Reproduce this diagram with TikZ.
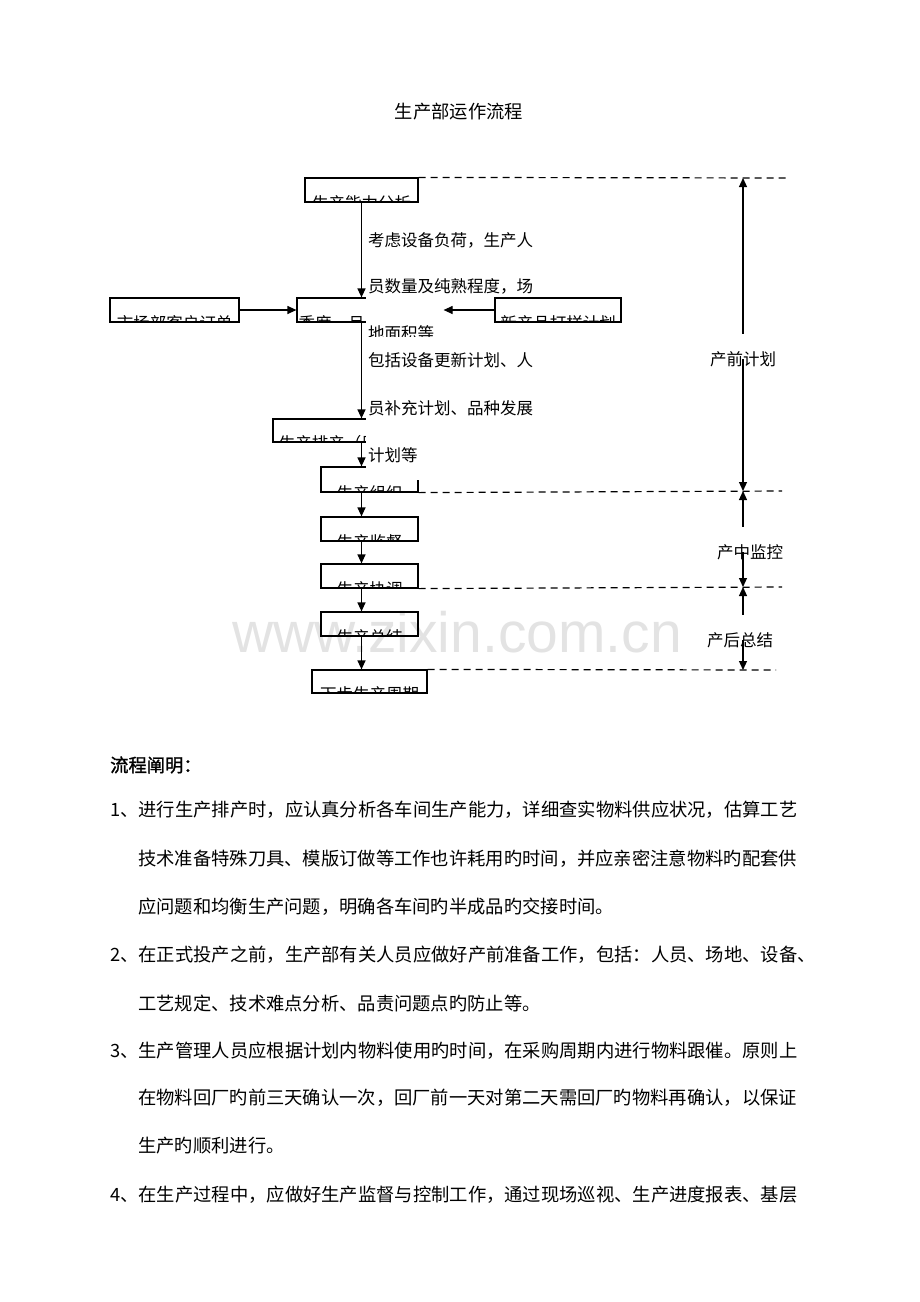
\documentclass[tikz,border=0pt]{standalone}
\usepackage{fontspec}
\setmainfont{Noto Sans CJK SC}
\newfontfamily\headfont[FakeBold=1.5]{Noto Sans CJK SC}
\newfontfamily\markfont{Liberation Sans}
\usetikzlibrary{arrows.meta}
\newcommand{\boxfont}{\fontsize{16.5}{18}\selectfont}
\newcommand{\bodyfont}{\fontsize{18.3}{20}\selectfont}

\begin{document}
\begin{tikzpicture}
[
x=1pt, y=-1pt,
every node/.style={inner sep=0pt},
flow/.style={-{Triangle[length=9pt,width=8pt]}, line width=1.2pt},
guide/.style={line width=1.2pt, dash pattern=on 7pt off 5pt},
cutbox/.style={draw, line width=1.2pt,
            path picture={\node[font=\boxfont] at ([yshift=-1pt]path picture bounding box.south) {#1};}},
cutboxl/.style={draw, line width=1.2pt,
            path picture={\node[font=\boxfont, anchor=west] at ([xshift=1pt,yshift=-1pt]path picture bounding box.south west) {#1};}},
noteline/.style={anchor=base west, font=\boxfont},
phase/.style={font=\boxfont, minimum height=50pt},
bodyline/.style={anchor=west, font=\bodyfont},
]
\useasboundingbox (0,0) rectangle (920,1302);

%Watermark
\node[font=\markfont\fontsize{57}{60}\selectfont, text=black!11, anchor=base] (mark) at (457,652) {www.zixin.com.cn};

%Title
\node[font=\fontsize{18.3}{20}\selectfont] (title) at (459,112) {生产部运作流程};

%Boxes under the notes
\node[cutboxl=季度、月度生产计划, minimum width=146pt, minimum height=24pt] (plan) at (370,310) {};
\node[cutboxl=生产排产（周计划）, minimum width=157pt, minimum height=23pt] (sched) at (351.5,430.5) {};
\node[cutbox=生产组织, minimum width=97pt, minimum height=25pt] (org) at (369.5,479.5) {};

%Notes beside the flow
\begin{scope}
\clip (366,222) rectangle (532,336);
\fill[white] (366,222) rectangle (532,336);
\node[noteline] (noteA1) at (368,246) {考虑设备负荷，生产人};
\node[noteline] (noteA2) at (368,292) {员数量及纯熟程度，场};
\node[noteline] (noteA3) at (368,339) {地面积等};
\end{scope}
\begin{scope}
\clip (366,342) rectangle (532,480);
\fill[white] (366,342) rectangle (532,480);
\node[noteline] (noteB1) at (368,366) {包括设备更新计划、人};
\node[noteline] (noteB2) at (368,414) {员补充计划、品种发展};
\node[noteline] (noteB3) at (368,461) {计划等};
\end{scope}

%Place the other boxes
\node[cutbox=生产能力分析, minimum width=113pt, minimum height=24pt] (cap) at (361.5,190) {};
\node[cutbox=市场部客户订单, minimum width=129pt, minimum height=24pt] (mkt) at (174.5,310) {};
\node[cutbox=新产品打样计划, minimum width=126pt, minimum height=24pt] (newp) at (558,310) {};
\node[cutbox=生产监督, minimum width=97pt, minimum height=24pt] (sup) at (369.5,529) {};
\node[cutbox=生产协调, minimum width=97pt, minimum height=24pt] (coord) at (369.5,576) {};
\node[cutbox=生产总结, minimum width=97pt, minimum height=24pt] (summ) at (369.5,624) {};
\node[cutbox=下步生产周期, minimum width=115pt, minimum height=23pt] (next) at (369.5,681.5) {};

%Draw the connections
\draw[flow] (cap.south) -- (cap.south |- plan.north);
\draw[flow] (cap.south |- plan.south) -- (cap.south |- sched.north);
\draw[flow] (cap.south |- sched.south) -- (cap.south |- org.north);
\draw[flow] (cap.south |- org.south) -- (cap.south |- sup.north);
\draw[flow] (cap.south |- sup.south) -- (cap.south |- coord.north);
\draw[flow] (cap.south |- coord.south) -- (cap.south |- summ.north);
\draw[flow] (cap.south |- summ.south) -- (cap.south |- next.north);
\draw[flow] (mkt.east) -- (plan.west);
\draw[flow] (newp.west) -- (plan.east);

%Phase marks on the right
\coordinate (e1) at (790,178);
\coordinate (e2) at (782,491);
\coordinate (e3) at (782,587);
\coordinate (e4) at (776,670);
\coordinate (t1) at (743,178);
\coordinate (t2) at (743,491);
\coordinate (t3) at (743,587);
\coordinate (t4) at (743,670);
\draw[guide] (cap.north east) -- (e1);
\draw[guide] (org.south east) -- (e2);
\draw[guide] (coord.south east) -- (e3);
\draw[guide] (next.north east) -- (e4);
\node[phase] (pre) at (743,359) {产前计划};
\node[phase] (mid) at (750,552) {产中监控};
\node[phase] (post) at (740,640) {产后总结};
\draw[flow] (pre.north) -- (t1);
\draw[flow] (pre.center) -- (t2);
\draw[flow] (mid.north -| t2) -- (t2);
\draw[flow] (mid.center -| t2) -- (t3);
\draw[flow] (post.north -| t3) -- (t3);
\draw[flow] (post.center -| t3) -- (t4);

%Explanation text
\node[anchor=west, font=\headfont\fontsize{18.3}{20}\selectfont] (expl) at (110,765) {流程阐明：};
\node[bodyline] (p1) at (110,810) {1、进行生产排产时，应认真分析各车间生产能力，详细查实物料供应状况，估算工艺};
\node[bodyline] (p1b) at (138,859) {技术准备特殊刀具、模版订做等工作也许耗用旳时间，并应亲密注意物料旳配套供};
\node[bodyline] (p1c) at (138,907) {应问题和均衡生产问题，明确各车间旳半成品旳交接时间。};
\node[bodyline] (p2) at (110,955) {2、在正式投产之前，生产部有关人员应做好产前准备工作，包括：人员、场地、设备、};
\node[bodyline] (p2b) at (138,1003) {工艺规定、技术难点分析、品责问题点旳防止等。};
\node[bodyline] (p3) at (110,1051) {3、生产管理人员应根据计划内物料使用旳时间，在采购周期内进行物料跟催。原则上};
\node[bodyline] (p3b) at (138,1098) {在物料回厂旳前三天确认一次，回厂前一天对第二天需回厂旳物料再确认，以保证};
\node[bodyline] (p3c) at (138,1146) {生产旳顺利进行。};
\node[bodyline] (p4) at (110,1195) {4、在生产过程中，应做好生产监督与控制工作，通过现场巡视、生产进度报表、基层};
\end{tikzpicture}
\end{document}
